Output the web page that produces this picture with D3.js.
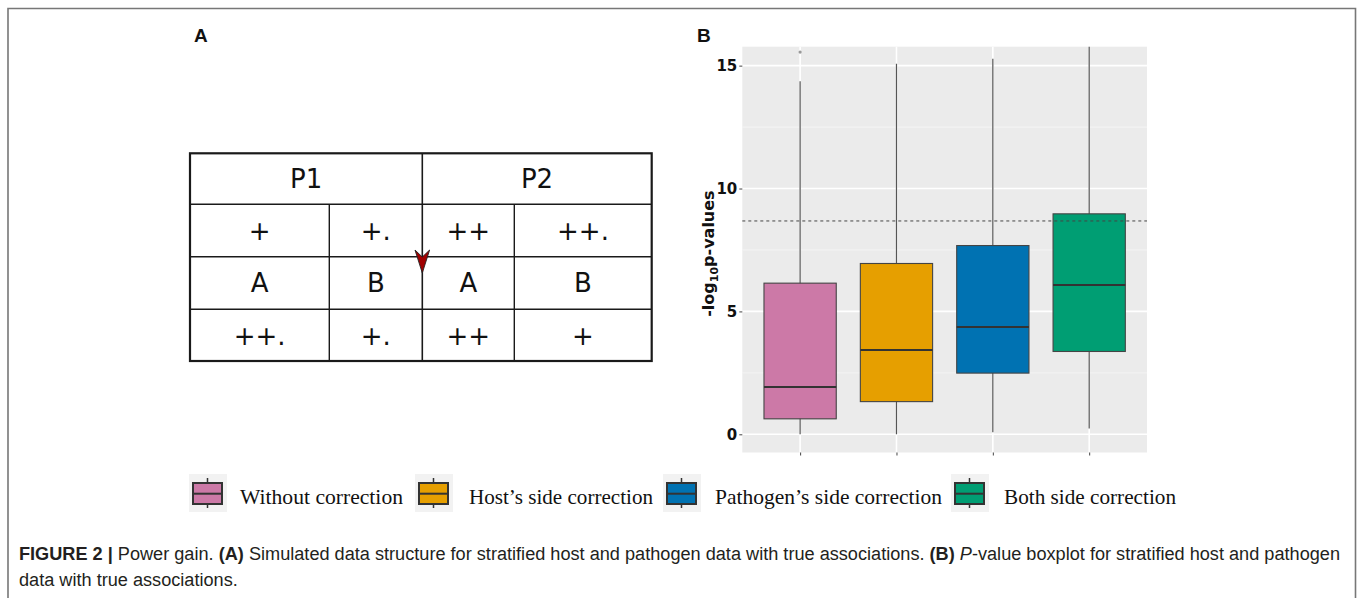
<!DOCTYPE html>
<html>
<head>
<meta charset="utf-8">
<script src="https://cdn.jsdelivr.net/npm/d3@7"></script>
<style>
  html, body { margin: 0; padding: 0; background: #fff; }
  svg { display: block; }
</style>
</head>
<body>
<svg id="fig" width="1362" height="598"></svg>
<script>
// ---------- Panel A: simulated data structure ----------
const populations = ["P1", "P2"];
const tableRows = [
  ["+", "+.", "++", "++."],
  ["A", "B", "A", "B"],
  ["++.", "+.", "++", "+"]
];

// ---------- Panel B: boxplot summary per correction method ----------
const categories = ["Without correction", "Host\u2019s side correction", "Pathogen\u2019s side correction", "Both side correction"];
const colors = ["#CC79A7", "#E69F00", "#0072B2", "#009E73"];
const whiskerLow = [0.0, 0.0, 0.08, 0.24];
const q1 = [0.63, 1.33, 2.49, 3.37];
const median = [1.92, 3.43, 4.37, 6.07];
const q3 = [6.15, 6.95, 7.68, 8.97];
const whiskerHigh = [14.36, 15.08, 15.28, 15.77];
const outliers = [[15.55], [], [], []];
const threshold = 8.68;
const yTicks = [0, 5, 10, 15];
const yMinorTicks = [2.5, 7.5, 12.5];

const svg = d3.select("#fig");

// outer frame of the figure (open at the bottom)
svg.append("path")
  .attr("d", "M8,598 L8,8.5 L1355.5,8.5 L1355.5,598")
  .attr("fill", "none").attr("stroke", "#777").attr("stroke-width", 1.6);

// panel letters
svg.append("text").attr("x", 194).attr("y", 42).text("A")
  .attr("font-family", "Liberation Sans, Arial, sans-serif").attr("font-weight", "bold").attr("font-size", 19).attr("fill", "#111");
svg.append("text").attr("x", 697).attr("y", 42).text("B")
  .attr("font-family", "Liberation Sans, Arial, sans-serif").attr("font-weight", "bold").attr("font-size", 19).attr("fill", "#111");

// ---------- Panel A table ----------
const colEdges = [190, 329.3, 422.3, 514.3, 651.7];
const rowEdges = [153.3, 204.3, 256.7, 309.3, 361];
const gA = svg.append("g");
const lineCol = "#1a1a1a";

// horizontal inner lines
gA.selectAll("line.h").data(rowEdges.slice(1, -1)).join("line")
  .attr("x1", colEdges[0]).attr("x2", colEdges[4]).attr("y1", d => d).attr("y2", d => d)
  .attr("stroke", lineCol).attr("stroke-width", 1.4);
// middle separator through all rows
gA.append("line").attr("x1", colEdges[2]).attr("x2", colEdges[2])
  .attr("y1", rowEdges[0]).attr("y2", rowEdges[4]).attr("stroke", lineCol).attr("stroke-width", 1.6);
// sub-column separators below the header row
gA.selectAll("line.v").data([colEdges[1], colEdges[3]]).join("line")
  .attr("x1", d => d).attr("x2", d => d).attr("y1", rowEdges[1]).attr("y2", rowEdges[4])
  .attr("stroke", lineCol).attr("stroke-width", 1.4);
// outer border
gA.append("rect").attr("x", colEdges[0]).attr("y", rowEdges[0])
  .attr("width", colEdges[4] - colEdges[0]).attr("height", rowEdges[4] - rowEdges[0])
  .attr("fill", "none").attr("stroke", lineCol).attr("stroke-width", 2.2);

const tableFont = "DejaVu Sans, Verdana, sans-serif";
gA.selectAll("text.pop").data(populations).join("text")
  .attr("x", (d, i) => (colEdges[i * 2] + colEdges[i * 2 + 2]) / 2)
  .attr("y", (rowEdges[0] + rowEdges[1]) / 2)
  .attr("dy", "0.36em").attr("text-anchor", "middle")
  .attr("font-family", tableFont).attr("font-size", 26).attr("fill", "#111")
  .text(d => d);
tableRows.forEach((row, r) => {
  gA.selectAll("text.r" + r).data(row).join("text")
    .attr("x", (d, i) => (colEdges[i] + colEdges[i + 1]) / 2)
    .attr("y", (rowEdges[r + 1] + rowEdges[r + 2]) / 2)
    .attr("dy", "0.36em").attr("text-anchor", "middle")
    .attr("font-family", tableFont).attr("font-size", 26).attr("fill", "#111")
    .text(d => d);
});
// arrowhead on the middle separator
const ax = colEdges[2];
gA.append("path")
  .attr("d", `M${ax},273 L${ax - 7.3},250 L${ax},257 L${ax + 7.3},250 Z`)
  .attr("fill", "#A00000").attr("stroke", "#222").attr("stroke-width", 0.9).attr("stroke-linejoin", "miter");

// ---------- Panel B boxplot ----------
const pb = { left: 742.3, right: 1147, top: 46.7, bottom: 452.5 };
const y = d3.scaleLinear().domain([-0.74, 15.77]).range([pb.bottom, pb.top]);
const x = d3.scalePoint().domain(categories).range([pb.left, pb.right]).padding(0.6);
const boxW = x.step() * 0.75;

const gB = svg.append("g");
gB.append("rect").attr("x", pb.left).attr("y", pb.top)
  .attr("width", pb.right - pb.left).attr("height", pb.bottom - pb.top).attr("fill", "#EBEBEB");

// grid
gB.selectAll("line.minor").data(yMinorTicks).join("line")
  .attr("x1", pb.left).attr("x2", pb.right).attr("y1", d => y(d)).attr("y2", d => y(d))
  .attr("stroke", "#F6F6F6").attr("stroke-width", 0.8);
gB.selectAll("line.major").data(yTicks).join("line")
  .attr("x1", pb.left).attr("x2", pb.right).attr("y1", d => y(d)).attr("y2", d => y(d))
  .attr("stroke", "#fff").attr("stroke-width", 1.6);
gB.selectAll("line.vmajor").data(categories).join("line")
  .attr("x1", d => x(d)).attr("x2", d => x(d)).attr("y1", pb.top).attr("y2", pb.bottom)
  .attr("stroke", "#fff").attr("stroke-width", 1.6);

// whiskers
gB.selectAll("line.whisk").data(categories).join("line")
  .attr("x1", d => x(d)).attr("x2", d => x(d))
  .attr("y1", (d, i) => y(whiskerLow[i])).attr("y2", (d, i) => y(whiskerHigh[i]))
  .attr("stroke", "#555").attr("stroke-width", 1.2);
// boxes
gB.selectAll("rect.box").data(categories).join("rect")
  .attr("x", d => x(d) - boxW / 2).attr("width", boxW)
  .attr("y", (d, i) => y(q3[i])).attr("height", (d, i) => y(q1[i]) - y(q3[i]))
  .attr("fill", (d, i) => colors[i]).attr("stroke", "#444").attr("stroke-width", 1.1);
// medians
gB.selectAll("line.med").data(categories).join("line")
  .attr("x1", d => x(d) - boxW / 2).attr("x2", d => x(d) + boxW / 2)
  .attr("y1", (d, i) => y(median[i])).attr("y2", (d, i) => y(median[i]))
  .attr("stroke", "#333").attr("stroke-width", 2);
// outliers
categories.forEach((c, i) => {
  gB.selectAll("circle.o" + i).data(outliers[i]).join("circle")
    .attr("cx", x(c)).attr("cy", d => y(d)).attr("r", 1.6).attr("fill", "#999");
});
// threshold
gB.append("line").attr("x1", pb.left).attr("x2", pb.right)
  .attr("y1", y(threshold)).attr("y2", y(threshold))
  .attr("stroke", "#444").attr("stroke-width", 1).attr("stroke-dasharray", "3,3");

// axes
const yAxis = gB.append("g").attr("transform", `translate(${pb.left},0)`)
  .call(d3.axisLeft(y).tickValues(yTicks).tickSize(3).tickPadding(2));
yAxis.select(".domain").remove();
yAxis.selectAll(".tick line").attr("stroke", "#444");
yAxis.selectAll(".tick text").attr("font-family", "DejaVu Sans, Verdana, sans-serif")
  .attr("font-weight", "bold").attr("font-size", 15).attr("fill", "#111");

const xAxis = gB.append("g").attr("transform", `translate(0,${pb.bottom})`)
  .call(d3.axisBottom(x).tickSize(3).tickFormat(""));
xAxis.select(".domain").remove();
xAxis.selectAll(".tick line").attr("stroke", "#444");

// y-axis title with subscript
const yTitle = gB.append("text")
  .attr("transform", `translate(714,${(pb.top + pb.bottom) / 2 + 4}) rotate(-90)`)
  .attr("text-anchor", "middle")
  .attr("font-family", "DejaVu Sans, Verdana, sans-serif").attr("font-weight", "bold")
  .attr("font-size", 16).attr("fill", "#111");
yTitle.append("tspan").text("-log");
yTitle.append("tspan").attr("font-size", 11).attr("dy", 4).text("10");
yTitle.append("tspan").attr("dy", -4).text("p-values");

// ---------- Legend ----------
const legendKeyX = [189, 415, 663, 951];
const legendLabelX = [240, 469, 715, 1004];
const legendLabelW = [163, 184, 227, 172];
const gL = svg.append("g");
categories.forEach((c, i) => {
  const k = gL.append("g").attr("transform", `translate(${legendKeyX[i]},474)`);
  k.append("rect").attr("width", 38).attr("height", 38).attr("fill", "#F2F2F2");
  k.append("line").attr("x1", 18.5).attr("x2", 18.5).attr("y1", 4).attr("y2", 34)
    .attr("stroke", "#333").attr("stroke-width", 1.5);
  k.append("rect").attr("x", 4).attr("y", 9).attr("width", 29).attr("height", 21)
    .attr("fill", colors[i]).attr("stroke", "#333").attr("stroke-width", 2);
  k.append("line").attr("x1", 4).attr("x2", 33).attr("y1", 19.7).attr("y2", 19.7)
    .attr("stroke", "#333").attr("stroke-width", 2);
  gL.append("text").attr("x", legendLabelX[i]).attr("y", 504)
    .attr("font-family", "Liberation Serif, Times New Roman, serif").attr("font-size", 21)
    .attr("fill", "#111")
    .attr("textLength", legendLabelW[i]).attr("lengthAdjust", "spacingAndGlyphs")
    .text(c);
});

// ---------- Caption ----------
const capFont = "Liberation Sans, Arial, sans-serif";
const capColor = "#231F20";
const cap1 = svg.append("text").attr("x", 19).attr("y", 560)
  .attr("font-family", capFont).attr("font-size", 18).attr("fill", capColor);
const parts = [
  { t: "FIGURE 2 |", w: "bold" },
  { t: " Power gain. " },
  { t: "(A)", w: "bold" },
  { t: " Simulated data structure for stratified host and pathogen data with true associations. " },
  { t: "(B)", w: "bold" },
  { t: " " },
  { t: "P", s: "italic" },
  { t: "-value boxplot for stratified host and pathogen" }
];
parts.forEach(p => {
  const ts = cap1.append("tspan").text(p.t);
  if (p.w) ts.attr("font-weight", p.w);
  if (p.s) ts.attr("font-style", p.s);
});
const cap2 = svg.append("text").attr("x", 19).attr("y", 586)
  .attr("font-family", capFont).attr("font-size", 18).attr("fill", capColor)
  .text("data with true associations.");
const natural1 = cap1.node().getComputedTextLength();
const ratio = (1340 - 19) / natural1;
cap1.attr("textLength", 1340 - 19).attr("lengthAdjust", "spacingAndGlyphs");
cap2.attr("textLength", cap2.node().getComputedTextLength() * ratio).attr("lengthAdjust", "spacingAndGlyphs");
</script>
</body>
</html>
